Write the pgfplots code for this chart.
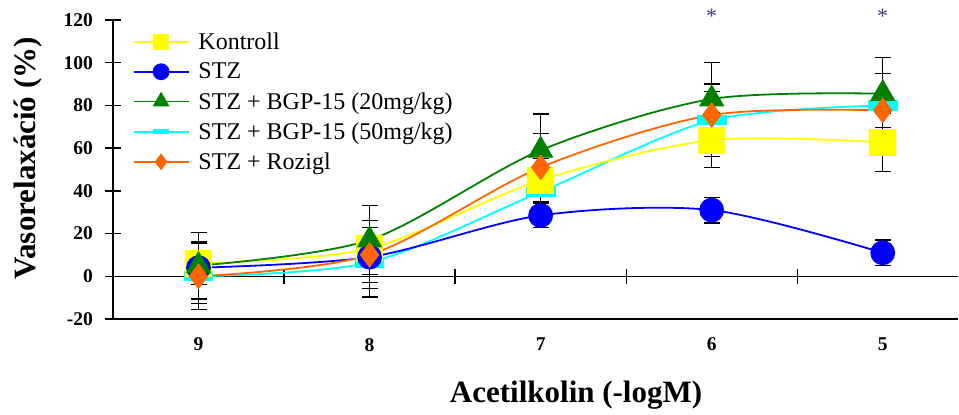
\documentclass[border=0pt]{standalone}
\usepackage{pgfplots}
\usepackage{pgfplotstable}
\pgfplotsset{compat=1.18}
\usepackage{fontspec}
\setmainfont{Liberation Serif}
\definecolor{cyel}{RGB}{255,255,0}
\definecolor{cblu}{RGB}{0,0,255}
\definecolor{cgrn}{RGB}{0,128,0}
\definecolor{ccya}{RGB}{0,255,255}
\definecolor{cora}{RGB}{255,102,0}
\definecolor{cstar}{RGB}{70,60,140}

\pgfplotstableread{
x y ep em
0 6 10 10
1 13 13 13
2 45 10 10
3 63.7 12.7 12.7
4 62.7 13.7 13.7
}\kontroll
\pgfplotstableread{
x y ep em
0 4 3 3
1 9 3 18.7
2 28.5 5.5 5.5
3 31 6 6
4 11 6 6
}\stz
\pgfplotstableread{
x y ep em
0 5 15.6 15.6
1 17 16 16
2 59 17 17
3 83 17 17
4 85.5 17 17
}\bgpa
\pgfplotstableread{
x y ep em
0 0 10 12.6
1 6.5 12.3 12.3
2 39.5 5 5
3 73 17 17
4 80 15 15
}\bgpb
\pgfplotstableread{
x y ep em
0 0 15.5 15.5
1 10 13 13
2 51 16 16
3 75.5 11 11
4 77.7 8 8
}\rozi

\begin{document}
\begin{tikzpicture}
\begin{axis}[
 at={(0,0)}, anchor=south west,
 scale only axis, width=845pt, height=299pt,
 xmin=-0.5, xmax=4.44, ymin=-20, ymax=120,
 axis x line=bottom, axis y line=left,
 axis line style={-, line width=1.3pt, black},
 xtick={0,1,2,3,4}, xticklabels={9,8,7,6,5},
 xtick style={draw=none},
 ytick={-20,0,20,40,60,80,100,120},
 yticklabels={-20,0,20,40,60,80,100,120},
 ytick style={line width=1.3pt, black},
 tick align=center, major tick length=15pt,
 ticklabel style={font=\bfseries\fontsize{19.5}{20}\selectfont},
 xticklabel style={yshift=-8pt},
 yticklabel style={xshift=-9pt},
 xlabel={Acetilkolin (-logM)}, ylabel={Vasorelaxáció (\%)},
 label style={font=\bfseries\fontsize{31}{31}\selectfont},
 xlabel style={at={(axis description cs:0.548,-0.254)}, anchor=center},
 ylabel style={at={(axis description cs:-0.1006,0.538)}, anchor=center},
 clip=false,
 legend style={at={(axis cs:-0.386,115)}, anchor=north west, draw=none, fill=none,
   inner sep=0pt, font=\fontsize{24}{25}\selectfont, row sep=8pt,
   cells={anchor=west},
   /tikz/every odd column/.append style={column sep=7pt}},
 legend image code/.code={\draw[mark repeat=2, mark phase=2] plot coordinates {(0pt,0pt) (27.5pt,0pt) (55pt,0pt)};},
 error bars/y dir=both, error bars/y explicit,
 error bars/error bar style={draw=black, line width=1.3pt, solid},
 error bars/error mark options={draw=black, rotate=90, mark size=8pt, line width=1.3pt},
]
% legend
\addlegendimage{cyel, line width=1.8pt, mark=square*, mark size=7.5pt, mark options={fill=cyel, draw=cyel}}
\addlegendentry{Kontroll}
\addlegendimage{cblu, line width=1.8pt, mark=*, mark size=7.5pt, mark options={fill=cblu, draw=cblu}}
\addlegendentry{STZ}
\addlegendimage{cgrn, line width=1.8pt, mark=triangle*, mark size=8pt, mark options={fill=cgrn, draw=cgrn}}
\addlegendentry{STZ + BGP-15 (20mg/kg)}
\addlegendimage{ccya, line width=1.8pt, mark=square*, mark size=7pt, mark options={fill=ccya, draw=ccya, yscale=0.25}}
\addlegendentry{STZ + BGP-15 (50mg/kg)}
\addlegendimage{cora, line width=1.8pt, mark=diamond*, mark size=7pt, mark options={fill=cora, draw=cora}}
\addlegendentry{STZ + Rozigl}

% zero line drawn as short pieces, with its ticks
\draw[line width=1.3pt, black] (axis cs:-0.5,0) -- (axis cs:0.5,0);
\draw[line width=1.3pt, black] (axis cs:0.5,0) -- (axis cs:1.5,0);
\draw[line width=1.3pt, black] (axis cs:1.5,0) -- (axis cs:2.5,0);
\draw[line width=1.3pt, black] (axis cs:2.5,0) -- (axis cs:3.5,0);
\draw[line width=1.3pt, black] (axis cs:3.5,0) -- (axis cs:4.44,0);
\draw[line width=1.3pt, black] ([yshift=-7.5pt]axis cs:0.5,0) -- ([yshift=7.5pt]axis cs:0.5,0);
\draw[line width=1.3pt, black] ([yshift=-7.5pt]axis cs:1.5,0) -- ([yshift=7.5pt]axis cs:1.5,0);
\draw[line width=1.3pt, black] ([yshift=-7.5pt]axis cs:2.5,0) -- ([yshift=7.5pt]axis cs:2.5,0);
\draw[line width=1.3pt, black] ([yshift=-7.5pt]axis cs:3.5,0) -- ([yshift=7.5pt]axis cs:3.5,0);

% error bars
\addplot[forget plot, only marks, mark=none] table[x=x, y=y, y error plus=ep, y error minus=em] {\kontroll};
\addplot[forget plot, only marks, mark=none] table[x=x, y=y, y error plus=ep, y error minus=em] {\stz};
\addplot[forget plot, only marks, mark=none] table[x=x, y=y, y error plus=ep, y error minus=em] {\bgpa};
\addplot[forget plot, only marks, mark=none] table[x=x, y=y, y error plus=ep, y error minus=em] {\bgpb};
\addplot[forget plot, only marks, mark=none] table[x=x, y=y, y error plus=ep, y error minus=em] {\rozi};

% curves
\addplot[forget plot, ccya, line width=1.8pt, smooth, mark=square*, mark size=14pt, mark options={fill=ccya, draw=ccya, yscale=0.3}, error bars/y dir=none] table[x=x, y=y] {\bgpb};
\addplot[forget plot, cyel, line width=1.8pt, smooth, mark=square*, mark size=12.5pt, mark options={fill=cyel, draw=cyel}, error bars/y dir=none] table[x=x, y=y] {\kontroll};
\addplot[forget plot, cblu, line width=1.8pt, smooth, mark=*, mark size=11.5pt, mark options={fill=cblu, draw=cblu}, error bars/y dir=none] table[x=x, y=y] {\stz};
\addplot[forget plot, cgrn, line width=1.8pt, smooth, mark=triangle*, mark size=13pt, mark options={fill=cgrn, draw=cgrn}, error bars/y dir=none] table[x=x, y=y] {\bgpa};
\addplot[forget plot, cora, line width=1.8pt, smooth, mark=diamond*, mark size=11.5pt, mark options={fill=cora, draw=cora}, error bars/y dir=none] table[x=x, y=y] {\rozi};

\node[text=cstar, font=\fontsize{22}{22}\selectfont] at (axis cs:3,121.8) {*};
\node[text=cstar, font=\fontsize{22}{22}\selectfont] at (axis cs:4,121.8) {*};
\end{axis}
\pgfresetboundingbox
\path[use as bounding box] (-113pt,-96pt) rectangle (846pt,319pt);
\end{tikzpicture}
\end{document}
